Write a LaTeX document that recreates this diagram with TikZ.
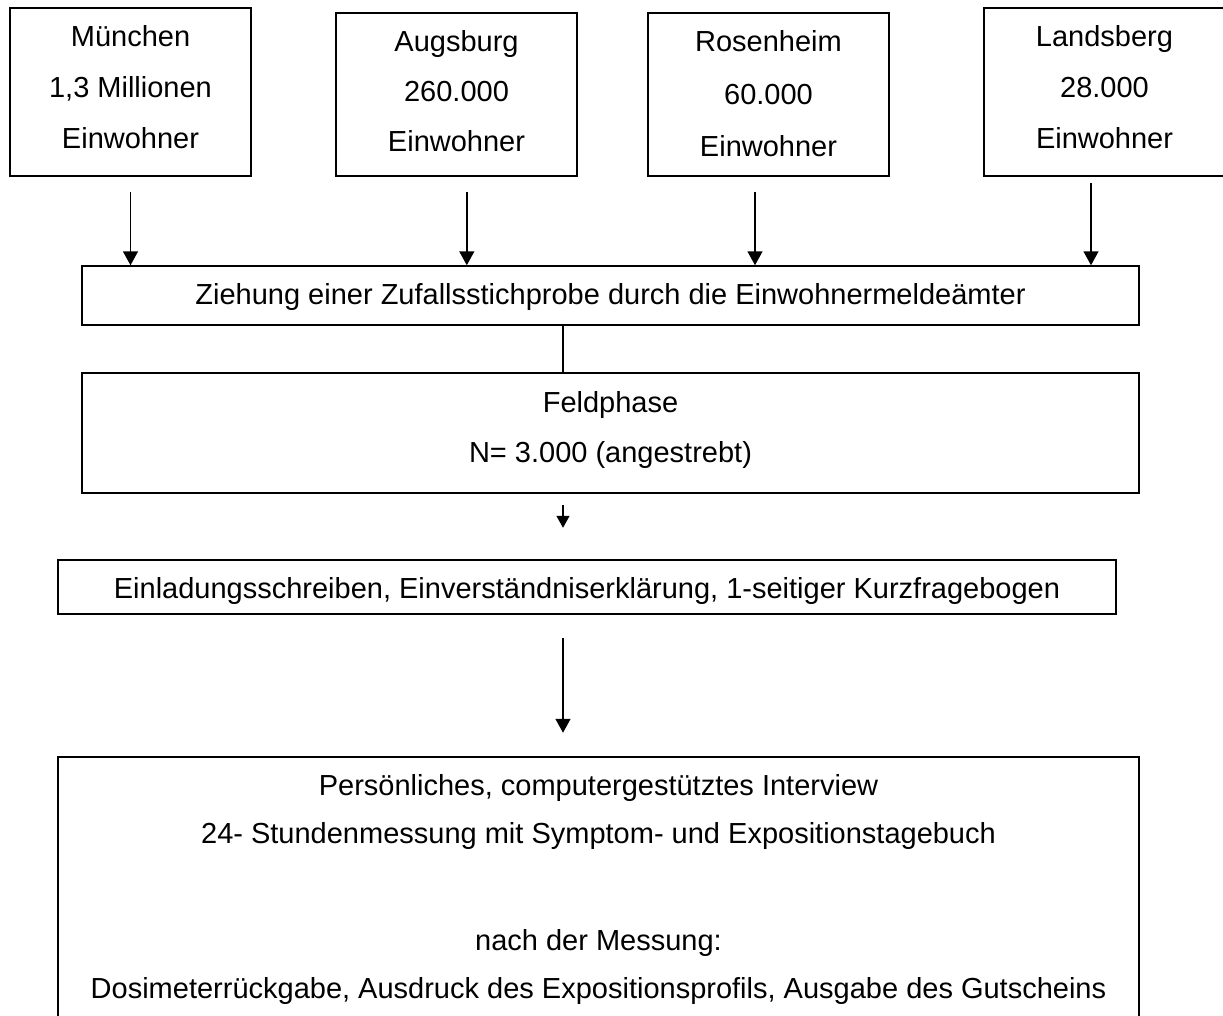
\documentclass[tikz,border=0pt]{standalone}
\usepackage{fontspec}
\setmainfont{Liberation Sans}
\usetikzlibrary{arrows.meta}
\begin{document}
\begin{tikzpicture}[x=1pt,y=-1pt,
  box/.style={draw, line width=1.5pt, inner sep=0pt, anchor=center},
  txt/.style={align=center, inner sep=0pt, anchor=center},
  arr/.style={line width=1.5pt, -{Triangle[length=14pt,width=15pt]}},
  arrsm/.style={line width=1.5pt, -{Triangle[length=12pt,width=13pt]}},
  conn/.style={line width=1.5pt}]
\useasboundingbox (0,0) rectangle (1223,1015);
% boxes
\node[box, minimum width=241pt, minimum height=168pt] (muc) at (130.5,92) {};
\node[box, minimum width=241pt, minimum height=163pt] (aug) at (456.5,94.5) {};
\node[box, minimum width=241pt, minimum height=163pt] (ros) at (768.5,94.5) {};
\node[box, minimum width=260pt, minimum height=168pt] (lan) at (1114,92) {};
\node[box, minimum width=1057pt, minimum height=59pt] (zie) at (610.5,295.5) {};
\node[box, minimum width=1057pt, minimum height=120pt] (fel) at (610.5,433) {};
\node[box, minimum width=1058pt, minimum height=54pt] (ein) at (587,587) {};
\node[box, minimum width=1081pt, minimum height=263pt] (per) at (598.5,888.5) {};
% texts
\node[txt, font=\fontsize{29}{51}\selectfont] (tm) at (130.5,87.4) {München\\1,3 Millionen\\Einwohner};
\node[txt, font=\fontsize{29}{50}\selectfont] (ta) at (456.5,91.6) {Augsburg\\260.000\\Einwohner};
\node[txt, font=\fontsize{29}{52.5}\selectfont] (tr) at (768.5,94.1) {Rosenheim\\60.000\\Einwohner};
\node[txt, font=\fontsize{29}{51}\selectfont] (tl) at (1104.5,87.4) {Landsberg\\28.000\\Einwohner};
\node[txt, font=\fontsize{29}{35}\selectfont] (tz) at (610.5,297) {Ziehung einer Zufallsstichprobe durch die Einwohnermeldeämter};
\node[txt, font=\fontsize{29}{50}\selectfont] (tf) at (610.5,429.7) {Feldphase\\N= 3.000 (angestrebt)};
\node[txt, font=\fontsize{29}{35}\selectfont] (te) at (587,590.8) {Einladungsschreiben, Einverständniserklärung, 1-seitiger Kurzfragebogen};
\node[txt, font=\fontsize{29}{48}\selectfont] (tp) at (598.5,889.5) {Persönliches, computergestütztes Interview\\24- Stundenmessung mit Symptom- und Expositionstagebuch\\[59pt]nach der Messung:\\Dosimeterrückgabe, Ausdruck des Expositionsprofils, Ausgabe des Gutscheins};
% connectors
\draw[arr] ([yshift=-15pt]muc.south) coordinate (m1) -- (m1 |- zie.north);
\draw[arr] ([xshift=10.3pt,yshift=-15pt]aug.south) coordinate (a1) -- (a1 |- zie.north);
\draw[arr] ([xshift=-13.5pt,yshift=-15pt]ros.south) coordinate (r1) -- (r1 |- zie.north);
\draw[arr] ([xshift=-23pt,yshift=-6pt]lan.south) coordinate (l1) -- (l1 |- zie.north);
\draw[conn] ([xshift=-47.5pt]zie.south) -- ([xshift=-47.5pt]fel.north);
\draw[arrsm] ([xshift=-47.5pt,yshift=-11pt]fel.south) coordinate (f1) -- ++(0,23) coordinate (f2);
\draw[arr] ([xshift=-24pt,yshift=-23pt]ein.south) coordinate (e1) -- ++(0,95) coordinate (e2);
\end{tikzpicture}
\end{document}
